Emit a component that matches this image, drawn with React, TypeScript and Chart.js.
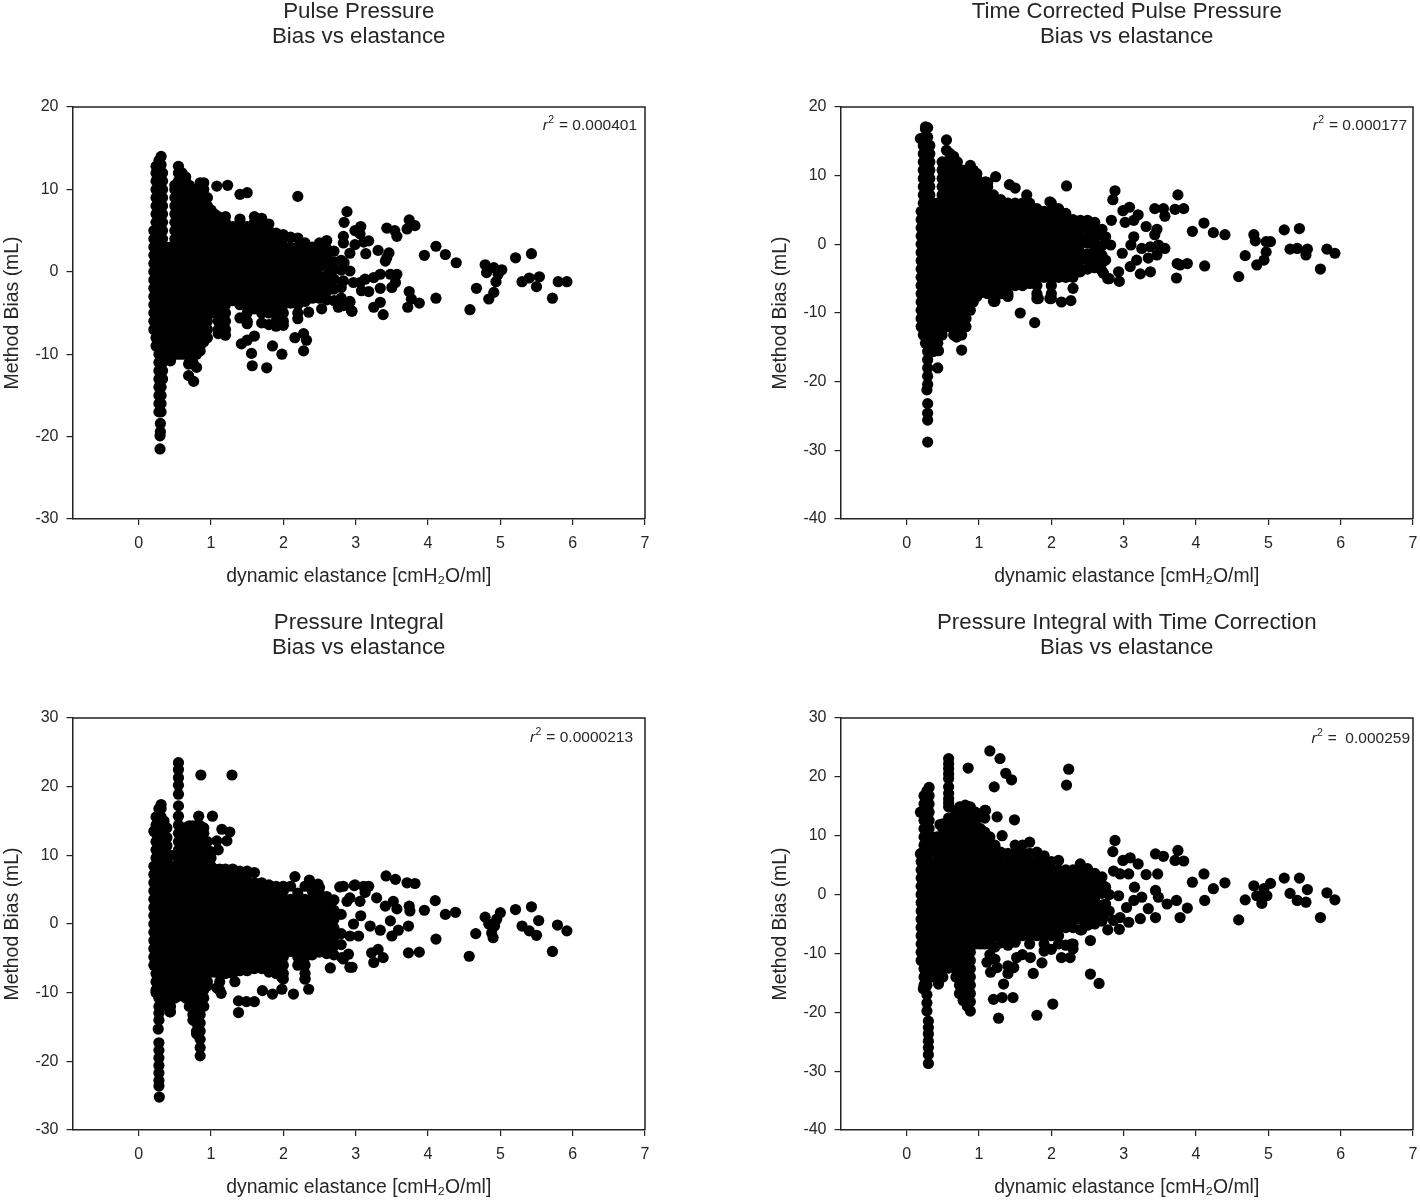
import React, { useEffect, useRef } from "react";
import { Chart, registerables } from "chart.js";

Chart.register(...registerables);

type Column = [number, number[]];
type Pair = [number, number];

const xTicks = [0, 1, 2, 3, 4, 5, 6, 7];
const yTicksA = [20, 10, 0, -10, -20, -30];
const yTicksB = [20, 10, 0, -10, -20, -30, -40];
const yTicksC = [30, 20, 10, 0, -10, -20, -30];
const yTicksD = [30, 20, 10, 0, -10, -20, -30, -40];

const pulseCore: Column[] = [
  [0.21, [5, 4, 3, 2, 1, 0, -1, -2, -3, -4, -5, -6, -7]],
  [0.24, [12.8, 12, 11, 10, 9, 8, 7, 6, 5, 4, 3, 2, 1, 0, -1, -2, -3, -4, -5, -6, -7, -8, -9]],
  [0.28, [13.5, 13, 12, 11, 10, 9, 8, 7, 6, 5, 4, 3, 2, 1, 0, -1, -2, -3, -4, -5, -6, -7, -8, -9, -10, -11, -12, -13, -14, -15, -16, -17]],
  [0.31, [14, 13, 12, 11, 10, 9, 8, 7, 6, 5, 4, 3, 2, 1, 0, -1, -2, -3, -4, -5, -6, -7, -8, -9, -10, -11, -12, -13, -14, -15, -16, -17]],
  [0.33, [12, 11, 10, 9, 8, 7, 6, 5, 4, 3, 2, 1, 0, -1, -2, -3, -4, -5, -6, -7, -8, -9, -10, -11, -12, -13]],
  [0.38, [3, 2, 1, 0, -1, -2, -3, -4, -5, -6, -7, -8, -9, -10]],
  [0.44, [3, 2, 1, 0, -1, -2, -3, -4, -5, -6, -7, -8, -9, -10, -10.8]],
  [0.5, [10.5, 10, 9, 8, 7, 6, 5, 4, 3, 2, 1, 0, -1, -2, -3, -4, -5, -6, -7, -8, -9, -10]],
  [0.55, [12.8, 12, 11, 10, 9, 8, 7, 6, 5, 4, 3, 2, 1, 0, -1, -2, -3, -4, -5, -6, -7, -8, -9, -10]],
  [0.6, [12, 11, 10, 9, 8, 7, 6, 5, 4, 3, 2, 1, 0, -1, -2, -3, -4, -5, -6, -7, -8, -9, -10]],
  [0.65, [11.5, 11, 10, 9, 8, 7, 6, 5, 4, 3, 2, 1, 0, -1, -2, -3, -4, -5, -6, -7, -8, -9, -10]],
  [0.7, [10.5, 10, 9, 8, 7, 6, 5, 4, 3, 2, 1, 0, -1, -2, -3, -4, -5, -6, -7, -8, -9, -10, -11]],
  [0.75, [10, 9, 8, 7, 6, 5, 4, 3, 2, 1, 0, -1, -2, -3, -4, -5, -6, -7, -8, -9, -10, -11]],
  [0.8, [10, 9, 8, 7, 6, 5, 4, 3, 2, 1, 0, -1, -2, -3, -4, -5, -6, -7, -8, -9, -10]],
  [0.85, [10.8, 10, 9, 8, 7, 6, 5, 4, 3, 2, 1, 0, -1, -2, -3, -4, -5, -6, -7, -8, -9, -9.6]],
  [0.9, [10.8, 10, 9, 8, 7, 6, 5, 4, 3, 2, 1, 0, -1, -2, -3, -4, -5, -6, -7, -8, -8.5]],
  [0.95, [9, 8, 7, 6, 5, 4, 3, 2, 1, 0, -1, -2, -3, -4, -5, -6, -7, -8]],
  [1.0, [7.5, 7, 6, 5, 4, 3, 2, 1, 0, -1, -2, -3, -4, -5]],
  [1.05, [7, 6, 5, 4, 3, 2, 1, 0, -1, -2, -3, -4, -5]],
  [1.1, [6.7, 6, 5, 4, 3, 2, 1, 0, -1, -2, -3, -4, -5, -6, -7, -7.5]],
  [1.2, [6.7, 6, 5, 4, 3, 2, 1, 0, -1, -2, -3, -4, -5, -6, -7, -7.7]],
  [1.3, [5.5, 5, 4, 3, 2, 1, 0, -1, -2, -3, -3.5]],
  [1.4, [6.4, 6, 5, 4, 3, 2, 1, 0, -1, -2, -3, -4, -5.6]],
  [1.5, [5.5, 5, 4, 3, 2, 1, 0, -1, -2, -3, -4, -5, -6, -6.3]],
  [1.6, [6.7, 6, 5, 4, 3, 2, 1, 0, -1, -2, -3, -4, -4.5]],
  [1.7, [6.5, 6, 5, 4, 3, 2, 1, 0, -1, -2, -3, -4, -5, -6.2]],
  [1.8, [5.8, 5, 4, 3, 2, 1, 0, -1, -2, -3, -4, -5, -6.4]],
  [1.9, [4.7, 4, 3, 2, 1, 0, -1, -2, -3, -4, -5, -6, -6.6]],
  [2.0, [4.5, 4, 3, 2, 1, 0, -1, -2, -3, -4, -5, -6, -6.5]],
  [2.1, [4.2, 3, 2, 1, 0, -1, -2, -3, -3.8]],
  [2.2, [4.1, 3, 2, 1, 0, -1, -2, -3, -4, -5]],
  [2.3, [3.5, 3, 2, 1, 0, -1, -2, -3, -3.6]],
  [2.4, [3, 2, 1, 0, -1, -2, -3, -3.2]],
  [2.5, [3.5, 2.6, 1.4, 0.6, -0.6, -1.4, -2.6, -3.2]],
  [2.6, [3.8, 2.8, 1.8, 0.8, -0.4, -1.6, -2.4, -3.4]],
  [2.7, [2.5, 1.2, 0.3, -0.9, -2.1, -3.5]],
  [2.8, [1.4, 0.2, -1.9, -3.2]],
];

const pulseTail: Pair[] = [
  [0.3, -18.4], [0.3, -19.4], [0.295, -19.9], [0.295, -21.5], [0.76, -13.3], [0.69, -12.6], [0.8, -11.6], [0.69, -11.2], [1.08, 10.4], [1.23, 10.5],
  [1.4, 9.4], [1.5, 9.6], [2.2, 9.15], [1.42, -8.75], [1.5, -8.3], [1.6, -7.8], [1.56, -9.9], [1.57, -11.4], [1.77, -11.65], [1.85, -9],
  [1.98, -10], [2.16, -8], [2.28, -7.5], [2.32, -8.3], [2.28, -9.6], [2.2, -5.7], [2.35, -4.9], [2.53, -4.5], [2.76, -4.3], [2.92, -3.7],
  [2.94, -4.7], [2.88, 7.3], [2.84, 6], [2.99, 5], [3.07, 5.5], [3.06, 4.6], [2.83, 4.3], [2.83, 3.5], [3.18, 3.75], [3.11, 3.6],
  [2.99, 3.3], [2.92, 2.25], [3.14, 2.2], [3.31, 2.6], [3.43, 5.3], [3.54, 5], [3.57, 4.3], [3.74, 6.3], [3.71, 5.2], [3.82, 5.6],
  [3.46, 2.3], [3.43, 1.7], [3.41, 1.3], [4.11, 3.1], [3.95, 2], [4.24, 2.1], [4.39, 1.1], [5.21, 1.7], [5.43, 2.2], [4.79, 0.85],
  [4.81, -0.1], [4.91, 0.5], [5.02, 0.25], [4.97, -0.3], [4.94, -1.2], [4.91, -2.5], [4.84, -3.3], [4.67, -2], [4.58, -4.6], [5.3, -1.2],
  [5.4, -0.75], [5.54, -0.6], [5.5, -1.8], [5.72, -3.2], [5.8, -1.2], [5.92, -1.2], [3.57, -0.3], [3.48, -0.3], [3.34, -0.3], [3.25, -0.7],
  [3.13, -0.9], [3.06, -1.3], [3.55, -1.3], [3.5, -1.9], [3.34, -2], [3.18, -2.4], [3.08, -2.3], [2.97, -1.3], [2.92, 0.1], [2.83, -1.1],
  [2.84, 1.1], [3.74, -2.4], [3.88, -3.8], [3.72, -4.3], [3.77, -3.3], [4.11, -3.2], [3.25, -4.3], [3.34, -3.7], [3.38, -5.2], [2.95, -4.8],
  [2.92, -3.6], [2.83, -4.1],
];

const timedCore: Column[] = [
  [0.2, [4.8, 3.6, 2.4, 1.2, 0, -1.2, -2.4, -3.6, -4.8, -6, -7.2, -8.4, -9.6, -10.8, -12]],
  [0.23, [15.4, 14.4, 13.2, 12, 10.8, 9.6, 8.4, 7.2, 6, 4.8, 3.6, 2.4, 1.2, 0, -1.2, -2.4, -3.6, -4.8, -6, -7.2, -8.4, -9.6, -10.8, -12, -13.2]],
  [0.26, [17.1, 16.8, 15.6, 14.4, 13.2, 12, 10.8, 9.6, 8.4, 7.2, 6, 4.8, 3.6, 2.4, 1.2, 0, -1.2, -2.4, -3.6, -4.8, -6, -7.2, -8.4, -9.6, -10.8, -12, -13.2, -14.4]],
  [0.29, [17, 15.6, 14.4, 13.2, 12, 10.8, 9.6, 8.4, 7.2, 6, 4.8, 3.6, 2.4, 1.2, 0, -1.2, -2.4, -3.6, -4.8, -6, -7.2, -8.4, -9.6, -10.8, -12, -13.2, -14.4, -15.6, -16.8, -18, -19.2, -20.4]],
  [0.32, [14.4, 13.2, 12, 10.8, 9.6, 8.4, 7.2, 6, 4.8, 3.6, 2.4, 1.2, 0, -1.2, -2.4, -3.6, -4.8, -6, -7.2, -8.4, -9.6, -10.8, -12, -13.2, -14.4, -15.6]],
  [0.37, [6, 4.8, 3.6, 2.4, 1.2, 0, -1.2, -2.4, -3.6, -4.8, -6, -7.2, -8.4, -9.6, -10.8, -12, -13.2, -14.4, -15.6]],
  [0.43, [6, 4.8, 3.6, 2.4, 1.2, 0, -1.2, -2.4, -3.6, -4.8, -6, -7.2, -8.4, -9.6, -10.8, -12, -13.2, -14.4]],
  [0.49, [12, 10.8, 9.6, 8.4, 7.2, 6, 4.8, 3.6, 2.4, 1.2, 0, -1.2, -2.4, -3.6, -4.8, -6, -7.2, -8.4, -9.6, -10.8, -12, -13.2]],
  [0.55, [15.2, 13.7, 12, 10.8, 9.6, 8.4, 7.2, 6, 4.8, 3.6, 2.4, 1.2, 0, -1.2, -2.4, -3.6, -4.8, -6, -7.2, -8.4, -9.6, -10.8, -12]],
  [0.6, [13.2, 12, 10.8, 9.6, 8.4, 7.2, 6, 4.8, 3.6, 2.4, 1.2, 0, -1.2, -2.4, -3.6, -4.8, -6, -7.2, -8.4, -9.6, -10.8, -12]],
  [0.65, [12.8, 12, 10.8, 9.6, 8.4, 7.2, 6, 4.8, 3.6, 2.4, 1.2, 0, -1.2, -2.4, -3.6, -4.8, -6, -7.2, -8.4, -9.6, -10.8, -12, -13.2]],
  [0.7, [12, 10.8, 9.6, 8.4, 7.2, 6, 4.8, 3.6, 2.4, 1.2, 0, -1.2, -2.4, -3.6, -4.8, -6, -7.2, -8.4, -9.6, -10.8, -12, -13.2]],
  [0.76, [10.8, 9.6, 8.4, 7.2, 6, 4.8, 3.6, 2.4, 1.2, 0, -1.2, -2.4, -3.6, -4.8, -6, -7.2, -8.4, -9.6, -10.8, -12, -13.2]],
  [0.82, [10.8, 9.6, 8.4, 7.2, 6, 4.8, 3.6, 2.4, 1.2, 0, -1.2, -2.4, -3.6, -4.8, -6, -7.2, -8.4, -9.6, -10.8, -12]],
  [0.88, [11.5, 10.8, 9.6, 8.4, 7.2, 6, 4.8, 3.6, 2.4, 1.2, 0, -1.2, -2.4, -3.6, -4.8, -6, -7.2, -8.4, -9.6]],
  [0.92, [10.8, 9.6, 8.4, 7.2, 6, 4.8, 3.6, 2.4, 1.2, 0, -1.2, -2.4, -3.6, -4.8, -6, -7.2, -8.4]],
  [0.97, [10.3, 9.6, 8.4, 7.2, 6, 4.8, 3.6, 2.4, 1.2, 0, -1.2, -2.4, -3.6, -4.8, -6, -7.2, -7.6]],
  [1.05, [9, 8.4, 7.2, 6, 4.8, 3.6, 2.4, 1.2, 0, -1.2, -2.4, -3.6, -4.8, -6, -7]],
  [1.12, [9, 8.4, 7.2, 6, 4.8, 3.6, 2.4, 1.2, 0, -1.2, -2.4, -3.6, -4.8, -6, -7.2]],
  [1.2, [7.2, 6, 4.8, 3.6, 2.4, 1.2, 0, -1.2, -2.4, -3.6, -4.8, -6, -7.2, -8.3]],
  [1.3, [6.5, 6, 4.8, 3.6, 2.4, 1.2, 0, -1.2, -2.4, -3.6, -4.8, -6, -7.2]],
  [1.4, [6, 4.8, 3.6, 2.4, 1.2, 0, -1.2, -2.4, -3.6, -4.8, -6, -7.2, -7.6]],
  [1.5, [6, 4.8, 3.6, 2.4, 1.2, 0, -1.2, -2.4, -3.6, -4.8, -6]],
  [1.6, [6, 4.8, 3.6, 2.4, 1.2, 0, -1.2, -2.4, -3.6, -4.8, -6]],
  [1.7, [6, 4.8, 3.6, 2.4, 1.2, 0, -1.2, -2.4, -3.6, -4.8, -5.7]],
  [1.8, [5.2, 4.8, 3.6, 2.4, 1.2, 0, -1.2, -2.4, -3.6, -4.8, -6, -7.2, -7.9]],
  [1.9, [4.8, 3.6, 2.4, 1.2, 0, -1.2, -2.4, -3.6, -4.8]],
  [2.0, [6, 4.8, 3.6, 2.4, 1.2, 0, -1.2, -2.4, -3.6, -4.8, -6, -7.2, -7.9]],
  [2.1, [5.2, 4.8, 3.6, 2.4, 1.2, 0, -1.2, -2.4, -3.6, -4.8]],
  [2.2, [4.5, 3.6, 2.4, 1.2, 0, -1.2, -2.4, -3.6, -4.8]],
  [2.3, [3.6, 2.4, 1.2, 0, -1.2, -2.4, -3.6, -4.8, -6.4]],
  [2.4, [3.5, 2.4, 1.2, 0, -1.2, -2.4, -3.6, -4]],
  [2.5, [3.5, 2.5, 1.1, 0.2, -1.4, -2.2, -3.6]],
  [2.6, [3.2, 2.1, 0.9, -0.4, -1.3, -2.6, -3.4]],
  [2.7, [2.2, 1.3, -0.2, -1.6, -2.7, -3.9]],
];

const timedTail: Pair[] = [
  [0.19, 15.4], [0.28, -21.2], [0.29, -23.2], [0.29, -24.6], [0.29, -25.6], [0.29, -28.8], [0.43, -18], [0.44, -15.5], [0.76, -15.4], [0.69, -13.5],
  [1.23, 9.85], [1.42, 8.7], [1.5, 8.2], [1.66, 7.2], [1.09, 9.1], [1.98, 6.2], [2.21, 8.5], [2.27, -8.2], [2.14, -8.4], [1.98, -7.9],
  [1.82, -7.9], [1.57, -10], [1.77, -11.4], [1.22, -8.3], [2.8, -5], [2.94, -5.4], [2.78, -5], [2.72, -4.2], [2.75, -2.3], [2.75, 1.1],
  [2.88, 7.8], [2.85, 6.5], [3.08, 5.4], [2.99, 4.9], [3.2, 4.3], [3.14, 3.5], [3.02, 3.2], [2.83, 3.5], [3.31, 2.6], [3.43, 5.2],
  [3.55, 5.2], [3.57, 4.1], [3.75, 7.2], [3.71, 5.1], [3.83, 5.2], [3.46, 2.2], [3.43, 1.4], [3.95, 1.9], [4.11, 3.1], [4.24, 1.7],
  [4.4, 1.4], [4.8, 1.4], [4.82, 0.5], [4.97, 0.4], [5.03, 0.4], [4.97, -1.1], [4.68, -1.65], [4.94, -2.3], [4.84, -3], [4.59, -4.7],
  [5.22, 2.1], [5.43, 2.3], [5.3, -0.7], [5.4, -0.6], [5.54, -0.7], [5.52, -1.55], [5.81, -0.7], [5.92, -1.3], [5.72, -3.6], [3.57, -0.6],
  [3.48, -0.1], [3.37, -0.35], [3.25, -0.6], [3.14, 1.1], [3.1, -0.1], [2.98, -1.3], [2.82, -0.1], [3.46, -1.55], [3.34, -2], [3.18, -2.3],
  [3.09, -3.25], [2.93, -4], [3.23, -4.3], [3.37, -4], [3.74, -2.8], [3.88, -2.8], [3.78, -3], [3.73, -4.9], [4.12, -3.15],
];

const integralCore: Column[] = [
  [0.21, [13.5, 8.4, 7.2, 6, 4.8, 3.6, 2.4, 1.2, 0, -1.2, -2.4, -3.6, -4.8, -6]],
  [0.24, [15.6, 14.4, 13.2, 12, 10.8, 9.6, 8.4, 7.2, 6, 4.8, 3.6, 2.4, 1.2, 0, -1.2, -2.4, -3.6, -4.8, -6, -7.2, -8.4, -9.6, -10]],
  [0.28, [16.8, 15.6, 14.4, 13.2, 12, 10.8, 9.6, 8.4, 7.2, 6, 4.8, 3.6, 2.4, 1.2, 0, -1.2, -2.4, -3.6, -4.8, -6, -7.2, -8.4, -9.6, -10.8, -12, -13]],
  [0.31, [17.4, 16.8, 15.6, 14.4, 13.2, 12, 10.8, 9.6, 8.4, 7.2, 6, 4.8, 3.6, 2.4, 1.2, 0, -1.2, -2.4, -3.6, -4.8, -6, -7.2, -8.4, -9.6, -10.8, -12]],
  [0.35, [15, 13.8, 12.6, 11.4, 10.2, 9, 7.8, 6.6, 5.4, 4.2, 3, 1.8, 0.6, -0.6, -1.8, -3, -4.2, -5.4, -6.6, -7.8, -9, -10.2, -11]],
  [0.39, [14, 12.6, 11.4, 10.2, 9, 7.8, 6.6, 5.4, 4.2, 3, 1.8, 0.6, -0.6, -1.8, -3, -4.2, -5.4, -6.6, -7.8, -9, -10.2, -11.5]],
  [0.44, [10, 8.4, 7.2, 6, 4.8, 3.6, 2.4, 1.2, 0, -1.2, -2.4, -3.6, -4.8, -6, -7.2, -8.4, -9.6, -10.8, -12, -12.8]],
  [0.5, [10, 8.4, 7.2, 6, 4.8, 3.6, 2.4, 1.2, 0, -1.2, -2.4, -3.6, -4.8, -6, -7.2, -8.4, -9.6, -10.8]],
  [0.55, [23.5, 22.5, 21.3, 20.2, 18.9, 17.2, 15.7, 14.4, 13.2, 12, 10.8, 9.6, 8.4, 7.2, 6, 4.8, 3.6, 2.4, 1.2, 0, -1.2, -2.4, -3.6, -4.8, -6, -7.2, -8.4, -9.6, -10.5]],
  [0.6, [14, 13.2, 12, 10.8, 9.6, 8.4, 7.2, 6, 4.8, 3.6, 2.4, 1.2, 0, -1.2, -2.4, -3.6, -4.8, -6, -7.2, -8.4, -9.6, -10]],
  [0.65, [14, 13.2, 12, 10.8, 9.6, 8.4, 7.2, 6, 4.8, 3.6, 2.4, 1.2, 0, -1.2, -2.4, -3.6, -4.8, -6, -7.2, -8.4, -9.6, -10.8]],
  [0.7, [14.3, 13.2, 12, 10.8, 9.6, 8.4, 7.2, 6, 4.8, 3.6, 2.4, 1.2, 0, -1.2, -2.4, -3.6, -4.8, -6, -7.2, -8.4, -9.6, -10.8, -12]],
  [0.75, [14.3, 13.2, 12, 10.8, 9.6, 8.4, 7.2, 6, 4.8, 3.6, 2.4, 1.2, 0, -1.2, -2.4, -3.6, -4.8, -6, -7.2, -8.4, -9.6, -10.8, -12, -13.2, -14]],
  [0.8, [14.3, 13.2, 12, 10.8, 9.6, 8.4, 7.2, 6, 4.8, 3.6, 2.4, 1.2, 0, -1.2, -2.4, -3.6, -4.8, -6, -7.2, -8.4, -9.6, -10.8, -12, -13.2, -14.4, -15.6, -16]],
  [0.85, [14.3, 13.2, 12, 10.8, 9.6, 8.4, 7.2, 6, 4.8, 3.6, 2.4, 1.2, 0, -1.2, -2.4, -3.6, -4.8, -6, -7.2, -8.4, -9.6, -10.8, -12, -13.2, -14.4, -15.6, -16.8, -18, -19.2]],
  [0.9, [14, 13.2, 12, 10.8, 9.6, 8.4, 7.2, 6, 4.8, 3.6, 2.4, 1.2, 0, -1.2, -2.4, -3.6, -4.8, -6, -7.2, -8.4, -9.6, -10.8, -12]],
  [0.95, [12, 10.8, 9.6, 8.4, 7.2, 6, 4.8, 3.6, 2.4, 1.2, 0, -1.2, -2.4, -3.6, -4.8, -6, -7.2, -8.4, -9]],
  [1.0, [10.5, 9.6, 8.4, 7.2, 6, 4.8, 3.6, 2.4, 1.2, 0, -1.2, -2.4, -3.6, -4.8, -6, -7]],
  [1.05, [8, 7.2, 6, 4.8, 3.6, 2.4, 1.2, 0, -1.2, -2.4, -3.6, -4.8, -6, -7]],
  [1.12, [8, 7.2, 6, 4.8, 3.6, 2.4, 1.2, 0, -1.2, -2.4, -3.6, -4.8, -6, -7.2, -8.4, -9.6]],
  [1.2, [8, 7.2, 6, 4.8, 3.6, 2.4, 1.2, 0, -1.2, -2.4, -3.6, -4.8, -6, -7.2]],
  [1.3, [8, 7.2, 6, 4.8, 3.6, 2.4, 1.2, 0, -1.2, -2.4, -3.6, -4.8, -6, -7.2]],
  [1.4, [7.7, 7.2, 6, 4.8, 3.6, 2.4, 1.2, 0, -1.2, -2.4, -3.6, -4.8, -6, -6.8]],
  [1.5, [7.7, 7.2, 6, 4.8, 3.6, 2.4, 1.2, 0, -1.2, -2.4, -3.6, -4.8, -6, -6.8]],
  [1.6, [7.5, 6, 4.8, 3.6, 2.4, 1.2, 0, -1.2, -2.4, -3.6, -4.8, -6, -6.5]],
  [1.7, [6, 4.8, 3.6, 2.4, 1.2, 0, -1.2, -2.4, -3.6, -4.8, -6, -6.5]],
  [1.8, [5.7, 4.8, 3.6, 2.4, 1.2, 0, -1.2, -2.4, -3.6, -4.8, -6, -7]],
  [1.9, [5.5, 4.8, 3.6, 2.4, 1.2, 0, -1.2, -2.4, -3.6, -4.8, -6, -7.2]],
  [2.0, [5.5, 4.8, 3.6, 2.4, 1.2, 0, -1.2, -2.4, -3.6, -4.8, -6, -7.2, -8]],
  [2.1, [5.5, 3.6, 2.4, 1.2, 0, -1.2, -2.4, -3.6, -4]],
  [2.2, [4.5, 3.6, 2.4, 1.2, 0, -1.2, -2.4, -3.6, -4.8, -6]],
  [2.3, [5.5, 3.6, 2.4, 1.2, 0, -1.2, -2.4, -3.6, -4.8, -6, -7.2, -8]],
  [2.4, [5.5, 4.8, 3.6, 2.4, 1.2, 0, -1.2, -2.4, -3.6, -4.5]],
  [2.5, [5.3, 4.4, 3.2, 2.1, 1, -0.3, -1.5, -2.6, -3.4, -4.1]],
  [2.6, [4, 2.9, 1.5, 0.4, -0.8, -2.2, -3.1, -4.3]],
  [2.7, [3.5, 2, 0.7, -0.6, -1.9, -3.2, -4.5]],
];

const integralTail: Pair[] = [
  [0.27, -15.3], [0.28, -14], [0.28, -17.3], [0.28, -18.4], [0.28, -19.5], [0.28, -20.6], [0.28, -21.7], [0.28, -22.8], [0.28, -23.6], [0.285, -25.2],
  [0.43, -12.8], [0.86, 21.7], [1.29, 21.7], [0.83, 15.7], [1.02, 15.7], [1.15, 13.8], [1.26, 13.4], [1.22, 12.1], [1.08, 12.1], [1.1, 10.8],
  [1.08, -9.3], [1.14, -10.1], [1.33, -8.4], [1.38, -11.2], [1.49, -11.3], [1.6, -11.3], [1.38, -12.9], [1.71, -9.7], [1.85, -10.2], [1.98, -9.5],
  [2.14, -10.2], [2.35, -9.5], [2.3, -8], [1.98, -7.8], [2.65, -6.4], [2.92, -6.3], [2.83, -5.1], [2.39, -4.4], [2.16, 6.9], [2.36, 6.4],
  [2.48, 5.8], [2.78, 5.4], [2.98, 5.6], [2.88, 3.3], [3.42, 7], [3.55, 6.5], [3.71, 6], [3.82, 5.9], [2.83, 5.5], [2.99, 5.7],
  [3.11, 5.5], [3.18, 5.5], [3.13, 4.6], [3.29, 3.8], [2.92, 3.8], [3.06, 3.3], [3.52, 3.3], [3.41, 2.6], [3.57, 2.2], [3.74, 2.6],
  [3.75, 1.9], [4.1, 3.4], [3.95, 2], [4.24, 1.4], [4.38, 1.7], [5.21, 2.1], [5.43, 2.5], [4.79, 1], [5, 1.65], [4.95, 0.7],
  [4.84, 0], [4.92, -0.3], [4.88, -1.3], [4.9, -2], [4.66, -1.4], [4.57, -4.7], [5.53, 0.5], [5.3, -0.3], [5.4, -1], [5.5, -1.65],
  [5.79, -0.15], [5.92, -1], [5.72, -4], [4.11, -2.2], [3.73, -0.3], [3.59, -0.9], [3.5, -1.75], [3.48, 0.45], [3.34, -0.9], [3.2, -0.3],
  [3.07, 1.2], [2.97, 0], [3.04, -1.75], [2.92, -1.75], [3.73, -4.2], [3.88, -4.1], [3.25, -5.6], [3.38, -4.9], [3.31, -3.7], [3.22, -4.2],
  [2.95, -6.3], [2.9, -4.4], [2.81, -4.9], [2.8, 1.4], [2.8, -1.4], [2.8, -3],
];

const correctedCore: Column[] = [
  [0.2, [7, 5.6, 4.2, 2.8, 1.4, 0, -1.4, -2.8, -4.2, -5.6, -7, -8.4, -9.8, -11.2]],
  [0.24, [16.8, 15.4, 14, 12.6, 11.2, 9.8, 8.4, 7, 5.6, 4.2, 2.8, 1.4, 0, -1.4, -2.8, -4.2, -5.6, -7, -8.4, -9.8, -11.2, -12.6, -14, -15.4]],
  [0.28, [17.6, 16.8, 15.4, 14, 12.6, 11.2, 9.8, 8.4, 7, 5.6, 4.2, 2.8, 1.4, 0, -1.4, -2.8, -4.2, -5.6, -7, -8.4, -9.8, -11.2, -12.6, -14, -15.4, -17, -18.4, -19.8]],
  [0.31, [18.2, 16.8, 15.4, 14, 12.6, 11.2, 9.8, 8.4, 7, 5.6, 4.2, 2.8, 1.4, 0, -1.4, -2.8, -4.2, -5.6, -7, -8.4, -9.8, -11.2, -12.6, -14]],
  [0.35, [9.8, 8.4, 4.2, 2.8, 1.4, 0, -1.4, -2.8, -4.2, -5.6, -7, -8.4, -9.8, -11.2, -12.6, -14]],
  [0.42, [9.8, 8.4, 7, 5.6, 4.2, 2.8, 1.4, 0, -1.4, -2.8, -4.2, -5.6, -7, -8.4, -9.8, -11.2, -12.6, -14]],
  [0.5, [12, 11.2, 9.8, 8.4, 7, 5.6, 4.2, 2.8, 1.4, 0, -1.4, -2.8, -4.2, -5.6, -7, -8.4, -9.8, -11.2, -12.6, -14]],
  [0.58, [23.1, 22.2, 21.4, 20.5, 19.7, 18.3, 17.2, 16.3, 15.6, 14.9, 13, 11.2, 9.8, 8.4, 7, 5.6, 4.2, 2.8, 1.4, 0, -1.4, -2.8, -4.2, -5.6, -7, -8.4, -9.8, -11.2, -12.5]],
  [0.62, [13, 11.2, 9.8, 8.4, 7, 5.6, 4.2, 2.8, 1.4, 0, -1.4, -2.8, -4.2, -5.6, -7, -8.4, -9.8, -11.2]],
  [0.68, [14, 12.6, 11.2, 9.8, 8.4, 7, 5.6, 4.2, 2.8, 1.4, 0, -1.4, -2.8, -4.2, -5.6, -7, -8.4, -9.8, -11.2, -12.6, -14]],
  [0.73, [14.9, 14, 12.6, 11.2, 9.8, 8.4, 7, 5.6, 4.2, 2.8, 1.4, 0, -1.4, -2.8, -4.2, -5.6, -7, -8.4, -9.8, -11.2, -12.6, -14, -15.4, -16.8]],
  [0.78, [14.9, 14, 12.6, 11.2, 9.8, 8.4, 7, 5.6, 4.2, 2.8, 1.4, 0, -1.4, -2.8, -4.2, -5.6, -7, -8.4, -9.8, -11.2, -12.6, -14, -15.4, -16.8, -18]],
  [0.84, [14.9, 14, 12.6, 11.2, 9.8, 8.4, 7, 5.6, 4.2, 2.8, 1.4, 0, -1.4, -2.8, -4.2, -5.6, -7, -8.4, -9.8, -11.2, -12.6, -14, -15.4, -16.8, -18.2, -19]],
  [0.88, [14.9, 14, 12.6, 11.2, 9.8, 8.4, 7, 5.6, 4.2, 2.8, 1.4, 0, -1.4, -2.8, -4.2, -5.6, -7, -8.4, -9.8, -11.2, -12.6, -14, -15.4, -16.8, -18.2, -19.8]],
  [0.95, [14, 12.6, 11.2, 9.8, 8.4, 7, 5.6, 4.2, 2.8, 1.4, 0, -1.4, -2.8, -4.2, -5.6, -7, -8.4]],
  [1.02, [13.2, 11.2, 9.8, 8.4, 7, 5.6, 4.2, 2.8, 1.4, 0, -1.4, -2.8, -4.2, -5.6, -7, -8.4]],
  [1.08, [14.3, 13, 10.6, 9.8, 8.4, 7, 5.6, 4.2, 2.8, 1.4, 0, -1.4, -2.8, -4.2, -5.6, -7, -8.4]],
  [1.15, [9.8, 8.6, 7, 5.6, 4.2, 2.8, 1.4, 0, -1.4, -2.8, -4.2, -5.6, -7, -8.4, -10.2]],
  [1.22, [8.4, 7, 5.6, 4.2, 2.8, 1.4, 0, -1.4, -2.8, -4.2, -5.6, -7, -8.9, -11]],
  [1.3, [7.2, 5.6, 4.2, 2.8, 1.4, 0, -1.4, -2.8, -4.2, -5.6, -7, -8.2]],
  [1.4, [7, 5.6, 4.2, 2.8, 1.4, 0, -1.4, -2.8, -4.2, -5.6, -7, -8.6, -12.1, -13.4]],
  [1.5, [8.4, 7, 5.6, 4.2, 2.8, 1.4, 0, -1.4, -2.8, -4.2, -5.6, -7, -8.1]],
  [1.6, [8.4, 7, 5.6, 4.2, 2.8, 1.4, 0, -1.4, -2.8, -4.2, -5.6, -7, -10.2]],
  [1.7, [8.9, 7, 5.6, 4.2, 2.8, 1.4, 0, -1.4, -2.8, -4.2, -5.6, -7, -8.4]],
  [1.8, [7.2, 5.6, 4.2, 2.8, 1.4, 0, -1.4, -2.8, -4.2, -5.6, -7]],
  [1.9, [6.6, 5.6, 4.2, 2.8, 1.4, 0, -1.4, -2.8, -4.2, -5.6, -7, -8.4, -9.6]],
  [2.0, [5.6, 4.2, 2.8, 1.4, 0, -1.4, -2.8, -4.2, -5.6, -7, -9.3]],
  [2.1, [5.8, 4.2, 2.8, 1.4, 0, -1.4, -2.8, -4.2, -5.6, -7, -8.4]],
  [2.2, [4.2, 2.8, 1.4, 0, -1.4, -2.8, -4.2, -5.6, -8.6]],
  [2.3, [4.2, 2.8, 1.4, 0, -1.4, -2.8, -4.2, -5.6, -8.4, -9.2]],
  [2.4, [5.2, 4.2, 2.8, 1.4, 0, -1.4, -2.8, -4.2, -6]],
  [2.5, [4.4, 3.1, 1.7, 0.3, -1.1, -2.4, -3.9, -5.2]],
  [2.6, [3.6, 2.2, 0.9, -0.6, -2.1, -3.6, -5]],
  [2.7, [3, 1.7, 0.2, -1.8, -3.1, -4.5]],
];

const correctedTail: Pair[] = [
  [0.19, 14], [0.19, 6.9], [0.23, -16], [0.44, -15.2], [0.3, -21.5], [0.3, -22.6], [0.3, -23.7], [0.3, -24.9], [0.3, -26], [0.3, -27.2],
  [0.3, -28.7], [1.15, 24.4], [1.29, 23.1], [0.85, 21.5], [1.37, 20.6], [1.45, 19.5], [1.21, 18.3], [2.24, 21.3], [2.21, 18.6], [1.49, 12.7],
  [1.32, 10], [1.09, 14.3], [1.25, 13.2], [0.81, 15.2], [0.46, 11.9], [1.11, -11.5], [1.16, -13.2], [1.34, -15.2], [1.48, -12.4], [1.25, -12.4],
  [1.2, -17.8], [1.32, -17.5], [1.47, -17.5], [1.27, -21], [1.8, -20.5], [2.02, -18.6], [1.75, -13.4], [1.87, -11.6], [1.52, -10.7], [1.71, -10.7],
  [2.54, -13.5], [2.66, -15.1], [2.54, -7.8], [2.42, -6], [2.26, -10.7], [2.14, -10.7], [2.28, -8.4], [2.88, 9.2], [2.85, 7.3], [2.99, 5.8],
  [3.09, 6.25], [3.2, 5.2], [3.44, 6.9], [3.55, 6.5], [3.75, 7.5], [3.71, 5.8], [3.83, 5.7], [3.31, 3.4], [3.47, 3.5], [2.86, 4],
  [2.95, 3.5], [3.07, 3.5], [3.15, 1.25], [3.44, 0.7], [3.48, -0.45], [3.6, -1.6], [3.44, -3.9], [3.73, -1], [3.88, -2.3], [3.78, -3.9],
  [3.95, 2.1], [4.11, 3.5], [4.24, 1], [4.4, 2], [4.12, -1], [4.8, 1.5], [5.03, 1.9], [4.94, 1], [4.84, -0.2], [4.98, -0.2],
  [4.91, -1.5], [4.68, -0.9], [4.59, -4.3], [5.22, 2.8], [5.43, 2.8], [5.54, 0.85], [5.3, 0.2], [5.4, -1], [5.52, -1.3], [5.81, 0.3],
  [5.92, -0.9], [5.72, -3.9], [3.14, -1], [3.25, -0.45], [2.93, -0.2], [3.04, -2.2], [2.95, -3.9], [2.86, -4.4], [2.78, -6], [2.94, -5.9],
  [3.07, -4.7], [3.23, -4.1], [3.34, -2.4], [2.72, -3.9], [2.75, -1.6], [2.75, 1.25], [2.8, 0], [2.8, -2.8],
];

const TEXT = "#262626";
const FAMILY = "'Liberation Sans', Arial, sans-serif";

function toPoints(core: Column[], tail: Pair[]) {
  const points: { x: number; y: number }[] = [];
  core.forEach(([x, ys]) => ys.forEach((y) => points.push({ x, y })));
  tail.forEach(([x, y]) => points.push({ x, y }));
  return points;
}

const frameAndNote = {
  id: "frameAndNote",
  afterDraw(chart: any) {
    const { ctx, chartArea: a } = chart;
    const note = chart.options.plugins.frameAndNote;
    ctx.save();
    ctx.strokeStyle = "#222";
    ctx.lineWidth = 1.5;
    ctx.beginPath();
    ctx.moveTo(a.left, a.top);
    ctx.lineTo(a.right, a.top);
    ctx.lineTo(a.right, a.bottom);
    ctx.stroke();
    ctx.fillStyle = TEXT;
    ctx.textBaseline = "alphabetic";
    ctx.textAlign = "left";
    const rest = note.text;
    ctx.font = `15.5px ${FAMILY}`;
    const restWidth = ctx.measureText(rest).width;
    const right = a.right - note.right;
    const base = a.top + note.top + 5.5;
    ctx.fillText(rest, right - restWidth, base);
    ctx.font = `10.5px ${FAMILY}`;
    ctx.fillText("2", right - restWidth - 6.5, base - 6.5);
    ctx.font = `italic 15.5px ${FAMILY}`;
    ctx.fillText("r", right - restWidth - 12, base);
    ctx.restore();
  },
};

type PanelProps = {
  left: number;
  top: number;
  title: string[];
  core: Column[];
  tail: Pair[];
  yTicks: number[];
  note: string;
  noteRight: number;
  noteTop: number;
};

function Panel({ left, top, title, core, tail, yTicks, note, noteRight, noteTop }: PanelProps) {
  const ref = useRef<HTMLCanvasElement>(null);
  useEffect(() => {
    const tickFont = { family: FAMILY, size: 16 };
    const chart = new Chart(ref.current as HTMLCanvasElement, {
      type: "scatter",
      data: {
        datasets: [
          {
            data: toPoints(core, tail),
            backgroundColor: "#000",
            borderColor: "#000",
            pointRadius: 5.6,
            borderWidth: 0,
          },
        ],
      },
      options: {
        animation: false,
        responsive: false,
        events: [],
        layout: { padding: { left: 0, top: 0, bottom: 0, right: 7 } },
        plugins: {
          legend: { display: false },
          tooltip: { enabled: false },
          title: {
            display: true,
            text: title,
            fullSize: false,
            color: TEXT,
            font: { family: FAMILY, size: 22.3, weight: "normal", lineHeight: 25 / 22.3 },
            padding: { top: 0, bottom: 58 },
          },
          frameAndNote: { text: note, right: noteRight, top: noteTop },
        } as any,
        scales: {
          x: {
            type: "linear",
            min: -0.915,
            max: 7,
            afterBuildTicks: (s: any) => {
              s.ticks = xTicks.map((value) => ({ value }));
            },
            afterFit: (s: any) => {
              s.height = 73;
              s.paddingRight = 0;
              s.paddingLeft = 0;
            },
            grid: { drawOnChartArea: false, drawTicks: true, tickLength: 6, color: "#222", lineWidth: 1.2 },
            border: { color: "#222", width: 1.5 },
            ticks: { color: TEXT, font: tickFont, padding: 9, maxRotation: 0, autoSkip: false },
            title: {
              display: true,
              text: "dynamic elastance [cmH₂O/ml]",
              color: TEXT,
              font: { family: FAMILY, size: 19.4 },
              padding: { top: 0, bottom: 4 },
            },
          },
          y: {
            type: "linear",
            min: yTicks[yTicks.length - 1],
            max: yTicks[0],
            afterBuildTicks: (s: any) => {
              s.ticks = yTicks.map((value) => ({ value }));
            },
            afterFit: (s: any) => {
              s.width = 72.5;
              s.paddingTop = 0;
              s.paddingBottom = 0;
            },
            grid: { drawOnChartArea: false, drawTicks: true, tickLength: 6, color: "#222", lineWidth: 1.2 },
            border: { color: "#222", width: 1.5 },
            ticks: { color: TEXT, font: tickFont, padding: 8 },
            title: {
              display: true,
              text: "Method Bias (mL)",
              color: TEXT,
              font: { family: FAMILY, size: 19.4 },
              padding: { top: 1.5, bottom: 0 },
            },
          },
        },
      },
      plugins: [frameAndNote],
    } as any);
    return () => chart.destroy();
  }, []);
  return (
    <canvas
      ref={ref}
      width={652}
      height={593}
      style={{ position: "absolute", left, top, display: "block" }}
    />
  );
}

export default function App() {
  return (
    <div style={{ position: "fixed", left: 0, top: 0, width: 1420, height: 1204, background: "#fff", overflow: "hidden" }}>
      <Panel left={0} top={-1} title={["Pulse Pressure", "Bias vs elastance"]} core={pulseCore} tail={pulseTail} yTicks={yTicksA} note=" = 0.000401" noteRight={8} noteTop={17} />
      <Panel left={768} top={-1} title={["Time Corrected Pulse Pressure", "Bias vs elastance"]} core={timedCore} tail={timedTail} yTicks={yTicksB} note=" = 0.000177" noteRight={6} noteTop={17} />
      <Panel left={0} top={610} title={["Pressure Integral", "Bias vs elastance"]} core={integralCore} tail={integralTail} yTicks={yTicksC} note=" = 0.0000213" noteRight={12} noteTop={18} />
      <Panel left={768} top={610} title={["Pressure Integral with Time Correction", "Bias vs elastance"]} core={correctedCore} tail={correctedTail} yTicks={yTicksD} note=" =  0.000259" noteRight={3} noteTop={19} />
    </div>
  );
}
